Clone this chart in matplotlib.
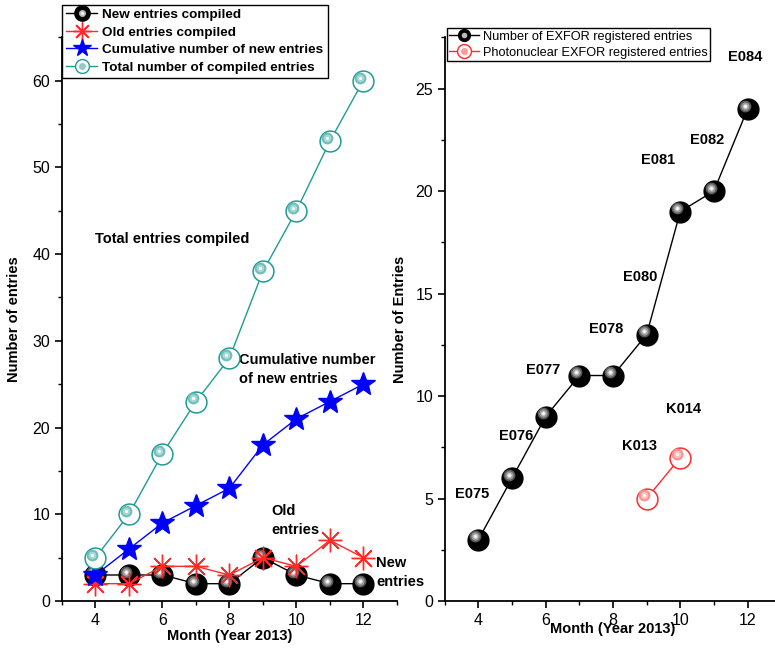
import matplotlib
matplotlib.use("Agg")
import matplotlib.pyplot as plt
import matplotlib.transforms as mtransforms
from matplotlib.lines import Line2D
from matplotlib.legend_handler import HandlerTuple
from matplotlib.ticker import MultipleLocator

plt.rcParams["font.family"] = ["Liberation Sans", "DejaVu Sans"]

# left panel: monthly compilation
months = [4, 5, 6, 7, 8, 9, 10, 11, 12]
new_entries = [3, 3, 3, 2, 2, 5, 3, 2, 2]
old_entries = [2, 2, 4, 4, 3, 5, 4, 7, 5]
cumulative_new = [3, 6, 9, 11, 13, 18, 21, 23, 25]
total_compiled = [5, 10, 17, 23, 28, 38, 45, 53, 60]

# right panel: EXFOR registration
exfor_months = [4, 5, 6, 7, 8, 9, 10, 11, 12]
exfor_entries = [3, 6, 9, 11, 11, 13, 19, 20, 24]
photo_months = [9, 10]
photo_entries = [5, 7]
entry_names = ["E075", "E076", "E077", "E078", "E080", "E081", "E082", "E084", "K013", "K014"]

TEAL = "#1f9b96"
RED = "#ff2a2a"
BLUE = "#0000ff"


def sphere(ax, fig, x, y, body, shades, size, off=(-2.2, 2.2), line=None, lw=1.0, z=3):
    """Origin-style shaded ball: a body marker plus offset highlights"""
    if line is not None:
        ax.plot(x, y, "-", color=line, lw=lw, zorder=z)
    if body == "open":
        ax.plot(x, y, "o", ms=size, mfc="white", mec=line, mew=1.1, ls="none", zorder=z)
    else:
        ax.plot(x, y, "o", ms=size, mfc=body, mec=body, ls="none", zorder=z)
    tr = mtransforms.offset_copy(ax.transData, fig=fig, x=off[0], y=off[1], units="points")
    for col, s in shades:
        ax.plot(x, y, "o", ms=s, mfc=col, mec="none", ls="none", zorder=z, transform=tr)


def style_axis(ax, ymax, ymajor):
    ax.set_xlim(3, 13)
    ax.set_ylim(0, ymax)
    ax.xaxis.set_major_locator(MultipleLocator(2))
    ax.xaxis.set_minor_locator(MultipleLocator(1))
    ax.yaxis.set_major_locator(MultipleLocator(ymajor))
    ax.yaxis.set_minor_locator(MultipleLocator(ymajor / 2))
    for s in ["top", "right"]:
        ax.spines[s].set_visible(False)
    for s in ["left", "bottom"]:
        ax.spines[s].set_linewidth(1.3)
    ax.tick_params(which="major", direction="out", length=5, width=1.2, labelsize=11.5)
    ax.tick_params(which="minor", direction="out", length=3, width=1.0)


fig = plt.figure(figsize=(7.75, 6.48), dpi=100)
ax1 = fig.add_axes([0.080, 0.0725, 0.432, 0.870])
ax2 = fig.add_axes([0.574, 0.0725, 0.434, 0.870])

black_shades = [("#5a5a5a", 8.5), ("#9a9a9a", 6), ("#e0e0e0", 3.2), ("white", 1.6)]
teal_shades = [("#6fbdb8", 8.5), ("#a8d8d5", 5.5), ("white", 2.2)]
red_shades = [("#ff8f8f", 8.5), ("#ffc0c0", 5.5), ("white", 2.2)]

# ---- left panel
sphere(ax1, fig, months, new_entries, "black", black_shades, 15, line="black", z=3)
ax1.plot(months, old_entries, "-", color=RED, lw=1.0, marker=(8, 2, 0), ms=17,
         mec=RED, mew=1.0, zorder=4)
ax1.plot(months, cumulative_new, "-", color=BLUE, lw=1.0, marker="*", ms=18,
         mfc=BLUE, mec=BLUE, zorder=5)
sphere(ax1, fig, months, total_compiled, "open", teal_shades, 15, line=TEAL, z=6)

style_axis(ax1, 65, 10)
ax1.set_xlabel("Month (Year 2013)", fontsize=10.5, fontweight="bold", labelpad=1)
ax1.set_ylabel("Number of entries", fontsize=10.5, fontweight="bold", labelpad=8)

ann = dict(fontsize=10.5, fontweight="bold", va="center", ha="left", linespacing=1.45)
ax1.text(4.0, 41.7, "Total entries compiled", **ann)
ax1.text(8.3, 26.7, "Cumulative number\nof new entries", **ann)
ax1.text(9.25, 9.3, "Old\nentries", **ann)
ax1.text(12.38, 3.3, "New\nentries", **ann)

overlay = {tuple: HandlerTuple(ndivide=1, pad=0)}

h_new = (Line2D([], [], color="black", lw=1, marker="o", ms=11, mfc="black", mec="black"),
         Line2D([], [], ls="none", marker="o", ms=5, mfc="#bdbdbd", mec="none"),
         Line2D([], [], ls="none", marker="o", ms=2, mfc="white", mec="none"))
h_old = Line2D([], [], color=RED, lw=1, marker=(8, 2, 0), ms=13, mec=RED, mew=1)
h_cum = Line2D([], [], color=BLUE, lw=1, marker="*", ms=13, mfc=BLUE, mec=BLUE)
h_tot = (Line2D([], [], color=TEAL, lw=1, marker="o", ms=10, mfc="white", mec=TEAL),
         Line2D([], [], ls="none", marker="o", ms=5, mfc="#8fcac6", mec="none"))
leg1 = ax1.legend([h_new, h_old, h_cum, h_tot],
                  ["New entries compiled", "Old entries compiled",
                   "Cumulative number of new entries", "Total number of compiled entries"],
                  handler_map=overlay,
                  loc="upper left", bbox_to_anchor=(0.0, 1.058), borderaxespad=0,
                  prop={"size": 9.7, "weight": "bold"}, handlelength=2.3, handletextpad=0.4,
                  labelspacing=0.38, borderpad=0.3, fancybox=False, framealpha=1,
                  edgecolor="black")
leg1.get_frame().set_linewidth(1.0)

# ---- right panel
sphere(ax2, fig, exfor_months, exfor_entries, "black", black_shades, 15, line="black", z=3)
sphere(ax2, fig, photo_months, photo_entries, "open", red_shades, 15, line=RED, z=4)

style_axis(ax2, 27.5, 5)
ax2.set_xlabel("Month (Year 2013)", fontsize=10.5, fontweight="bold", labelpad=-4)
ax2.set_ylabel("Number of Entries", fontsize=10.5, fontweight="bold", labelpad=6)

label_xy = [(3.8, 5.2), (5.11, 8.06), (5.92, 11.26), (7.79, 13.25), (8.8, 15.8),
            (9.33, 21.5), (10.8, 22.5), (11.93, 26.55), (8.8, 7.57), (10.1, 9.37)]
for name, (lx, ly) in zip(entry_names, label_xy):
    ax2.text(lx, ly, name, fontsize=10.5, fontweight="bold", ha="center", va="center")

h_ex = (Line2D([], [], color="black", lw=1, marker="o", ms=8.5, mfc="black", mec="black"),
        Line2D([], [], ls="none", marker="o", ms=4, mfc="#bdbdbd", mec="none"))
h_ph = (Line2D([], [], color=RED, lw=1, marker="o", ms=10, mfc="white", mec=RED),
        Line2D([], [], ls="none", marker="o", ms=5, mfc="#ff9a9a", mec="none"))
leg2 = ax2.legend([h_ex, h_ph],
                  ["Number of EXFOR registered entries", "Photonuclear EXFOR registered entries"],
                  handler_map=overlay,
                  loc="upper left", bbox_to_anchor=(0.006, 1.016), borderaxespad=0,
                  prop={"size": 9.2}, handlelength=2.3, handletextpad=0.3,
                  labelspacing=0.3, borderpad=0.2, fancybox=False, framealpha=1,
                  edgecolor="black")
leg2.get_frame().set_linewidth(1.0)

fig.savefig("out.png", dpi=100)
